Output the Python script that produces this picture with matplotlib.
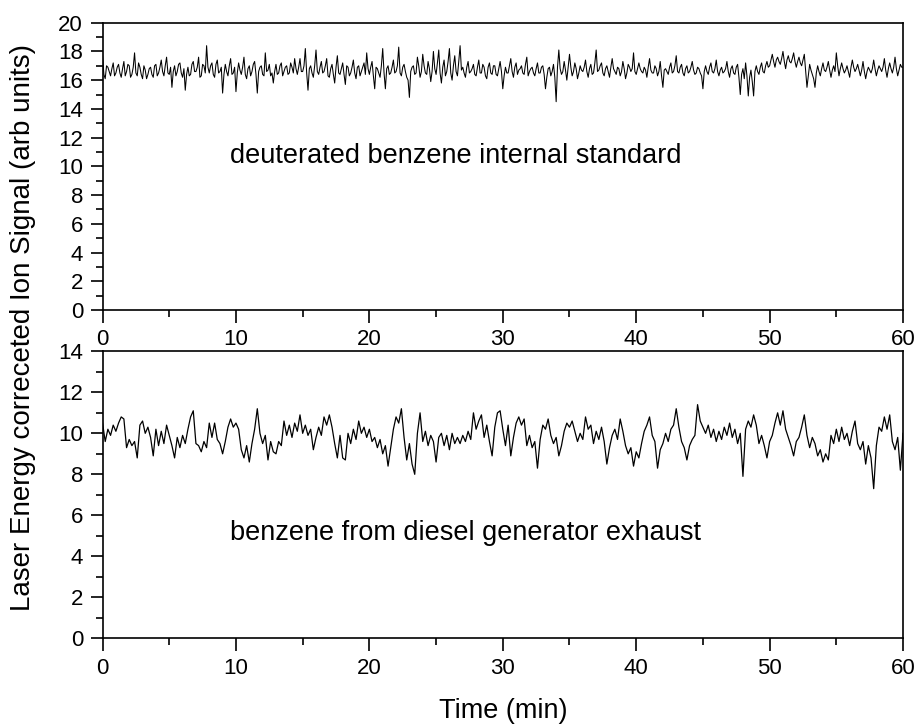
import numpy as np
import matplotlib
matplotlib.use("Agg")
import matplotlib.pyplot as plt
from matplotlib.ticker import MultipleLocator

plt.rcParams["font.family"] = ["Liberation Sans", "DejaVu Sans"]

# time axes (min)
exhaustTime = np.round(np.arange(0, 60.01, 0.2), 1)
standardTime = np.round(np.arange(0, 60.01, 0.1), 1)

# deuterated benzene internal standard (top panel), readings at 0.0, 0.2, 0.4 ... min
standardEven = [
    17.7, 16.1, 16.9, 16.3, 17.2, 16.5, 17.1, 16.2, 17.3, 16.6, 17.0, 16.4, 17.9, 16.3, 16.9, 16.1, 16.7, 16.4, 16.9, 16.2, 17.1, 16.5, 17.4, 16.3, 17.6,
    16.4, 15.5, 17.0, 16.6, 17.2, 16.2, 15.3, 16.9, 16.4, 17.3, 16.6, 17.6, 16.3, 17.0, 18.4, 16.5, 17.2, 16.2, 17.4, 16.6, 15.1, 17.1, 16.3, 17.5, 16.5,
    15.2, 17.2, 16.4, 17.6, 16.1, 17.0, 16.6, 17.3, 15.1, 16.9, 16.4, 17.9, 16.7, 16.3, 15.8, 17.1, 16.5, 17.2, 16.6, 17.0, 16.5, 16.9, 17.5, 16.4, 17.5,
    16.6, 18.2, 15.3, 17.0, 16.2, 18.1, 16.4, 17.3, 16.6, 17.5, 16.2, 17.1, 15.8, 17.7, 16.4, 17.2, 15.7, 16.9, 16.5, 17.4, 16.1, 17.0, 16.6, 17.2, 17.9,
    16.4, 17.3, 15.4, 16.8, 16.2, 18.2, 15.4, 17.0, 16.5, 17.4, 16.6, 18.3, 16.3, 17.1, 16.2, 14.8, 16.9, 16.4, 17.6, 16.2, 17.8, 16.5, 17.3, 15.9, 18.0,
    16.4, 18.1, 15.8, 17.4, 16.6, 18.2, 16.0, 17.7, 16.3, 18.4, 16.9, 16.2, 17.3, 16.6, 17.1, 16.3, 17.4, 16.5, 16.9, 16.1, 17.2, 16.4, 17.0, 16.3, 17.3,
    15.4, 16.9, 16.5, 17.5, 16.2, 17.2, 16.7, 17.0, 16.4, 17.6, 16.6, 16.9, 16.3, 17.2, 16.5, 17.0, 15.4, 16.8, 16.3, 17.1, 14.5, 18.1, 16.4, 17.3, 16.0,
    17.8, 16.3, 17.2, 16.1, 17.0, 16.6, 17.4, 16.2, 17.1, 16.5, 18.1, 16.7, 17.2, 16.3, 17.0, 16.2, 17.5, 16.6, 16.9, 16.3, 17.3, 16.1, 17.1, 16.6, 17.9,
    16.4, 17.2, 16.6, 16.9, 16.2, 17.5, 16.5, 17.0, 16.3, 17.3, 15.5, 16.8, 16.4, 17.2, 16.6, 17.7, 16.5, 17.1, 16.3, 17.0, 16.6, 17.3, 16.4, 16.9, 16.5,
    15.4, 17.0, 16.4, 17.2, 16.5, 17.4, 16.3, 16.9, 16.6, 17.3, 16.2, 17.0, 16.4, 17.1, 15.0, 16.8, 17.2, 14.9, 16.7, 14.9, 17.0, 16.4, 17.2, 16.5, 17.3,
    17.0, 17.8, 16.9, 17.6, 17.1, 18.0, 16.8, 17.7, 17.2, 17.9, 16.9, 17.6, 17.0, 17.8, 15.5, 17.1, 16.4, 15.5, 17.0, 16.3, 17.2, 16.6, 17.3, 16.2, 17.0,
    17.9, 16.3, 17.2, 16.5, 17.0, 16.2, 17.4, 16.6, 17.1, 16.3, 17.3, 16.1, 16.9, 16.5, 17.4, 16.3, 17.0, 16.6, 17.5, 16.2, 17.2, 16.5, 17.6, 16.3, 17.1,
    16.9,
]

# same trace, readings at 0.1, 0.3, 0.5 ... min
standardOdd = [
    16.4, 17.0, 16.6, 16.8, 16.3, 16.9, 16.5, 16.8, 16.3, 17.1, 16.2, 16.9, 16.5, 17.2, 16.4, 17.0, 16.1, 16.8, 16.4, 17.0, 16.3, 16.9, 16.6, 17.0, 16.5,
    16.9, 16.6, 16.3, 17.1, 16.5, 16.8, 16.4, 16.3, 17.1, 16.6, 16.9, 16.2, 17.1, 16.5, 16.9, 17.0, 16.4, 17.1, 16.5, 16.9, 16.4, 16.6, 17.0, 16.4, 16.9,
    16.5, 16.7, 16.9, 16.4, 16.8, 16.3, 17.1, 16.4, 16.6, 17.0, 16.3, 16.6, 17.1, 16.5, 16.6, 16.4, 17.0, 16.3, 16.9, 16.4, 17.2, 16.5, 16.8, 16.9, 16.6,
    17.0, 16.5, 16.8, 16.5, 17.0, 16.6, 16.9, 16.5, 17.0, 16.3, 16.8, 16.4, 16.9, 16.5, 16.8, 16.4, 17.0, 16.3, 16.9, 16.5, 16.9, 16.3, 16.9, 16.4, 16.8,
    16.9, 16.3, 16.9, 16.5, 17.0, 16.5, 16.8, 16.4, 16.9, 16.5, 17.0, 16.5, 16.9, 16.6, 16.0, 16.6, 17.0, 16.5, 17.0, 16.6, 17.0, 16.4, 16.8, 16.6, 16.8,
    17.2, 16.5, 16.9, 16.3, 17.3, 16.5, 17.0, 16.6, 17.3, 16.7, 16.5, 16.9, 16.5, 16.8, 16.4, 16.9, 16.5, 17.1, 16.3, 16.9, 16.5, 17.0, 16.4, 16.8, 16.6,
    16.3, 16.5, 17.0, 16.6, 16.9, 16.4, 16.8, 16.5, 17.1, 16.3, 16.8, 16.5, 16.8, 16.5, 16.9, 16.4, 16.2, 16.9, 16.6, 16.2, 16.9, 16.8, 16.6, 16.7, 16.9,
    16.9, 16.6, 16.8, 16.5, 16.7, 16.9, 16.6, 16.8, 16.4, 17.2, 16.6, 17.0, 16.5, 16.8, 16.6, 16.9, 16.8, 16.4, 16.8, 16.6, 16.8, 16.5, 16.9, 16.8, 16.6,
    16.8, 16.8, 16.5, 16.7, 16.9, 16.7, 16.5, 16.8, 16.6, 16.3, 16.7, 16.6, 16.9, 16.5, 17.0, 16.6, 16.9, 16.5, 16.8, 16.5, 16.9, 16.7, 16.5, 16.8, 16.3,
    16.6, 16.6, 16.9, 16.6, 16.8, 16.6, 16.7, 16.5, 16.8, 16.6, 16.8, 16.5, 16.9, 16.2, 16.4, 16.1, 16.3, 16.2, 15.9, 16.6, 16.6, 16.9, 16.6, 17.0, 16.9,
    17.4, 17.3, 17.4, 17.3, 17.5, 17.3, 17.4, 17.3, 17.5, 17.3, 17.3, 17.2, 17.4, 16.6, 16.3, 16.7, 16.1, 16.5, 16.6, 16.8, 16.7, 16.9, 16.7, 16.7, 16.6,
    17.0, 16.8, 16.8, 16.7, 16.6, 16.9, 16.9, 16.8, 16.7, 16.7, 16.6, 16.6, 16.7, 16.8, 16.8, 16.7, 16.8, 16.9, 16.7, 16.8, 16.8, 16.9, 16.8, 16.7, 16.9,
]

# benzene from diesel generator exhaust (bottom panel), readings every 0.2 min
exhaustSignal = [
    10.5, 9.6, 10.2, 9.9, 10.4, 10.1, 10.5, 10.8, 10.7, 9.3, 9.7, 9.4, 9.6, 8.8, 10.4, 10.6, 10.0, 10.3, 9.8, 8.9, 10.2, 9.4, 10.1, 9.5, 10.4,
    9.9, 9.4, 8.8, 9.8, 9.3, 9.9, 9.5, 10.2, 10.8, 11.1, 9.5, 9.4, 9.1, 9.6, 9.3, 10.5, 9.8, 10.5, 9.7, 9.5, 9.0, 9.6, 10.3, 10.7, 10.3,
    10.5, 10.2, 9.2, 8.8, 9.4, 8.6, 9.5, 10.2, 11.2, 10.0, 9.5, 9.9, 8.7, 9.6, 9.1, 9.0, 9.6, 9.4, 10.6, 9.9, 10.4, 9.8, 10.5, 10.1, 10.9,
    10.0, 10.4, 9.9, 10.2, 9.2, 9.8, 10.3, 9.9, 10.8, 10.4, 10.9, 10.3, 9.5, 8.8, 9.9, 8.8, 8.7, 10.0, 9.5, 10.2, 9.7, 10.6, 10.0, 10.3, 9.8,
    10.2, 9.6, 9.8, 9.3, 9.7, 9.0, 9.4, 8.4, 9.3, 10.2, 10.8, 10.5, 11.2, 9.8, 8.7, 9.5, 8.5, 8.0, 10.0, 11.0, 9.6, 10.1, 9.4, 9.9, 9.6,
    8.6, 9.8, 10.0, 9.4, 9.9, 9.2, 10.0, 9.5, 9.8, 9.5, 9.9, 9.6, 10.1, 9.7, 11.0, 10.2, 10.6, 10.9, 9.8, 10.4, 9.6, 8.9, 10.3, 11.0, 11.1,
    10.2, 9.4, 10.4, 8.9, 9.8, 10.5, 10.8, 10.4, 10.7, 9.4, 9.9, 9.3, 9.6, 8.3, 9.7, 10.4, 10.2, 10.7, 9.9, 9.5, 9.8, 8.9, 9.4, 10.1, 10.5,
    10.3, 10.6, 10.1, 9.6, 10.0, 9.7, 10.8, 10.2, 10.4, 9.5, 10.1, 9.7, 10.3, 9.6, 8.5, 9.3, 9.9, 10.2, 9.7, 10.7, 10.1, 9.4, 9.0, 9.3, 8.4,
    9.1, 8.8, 9.5, 10.1, 10.4, 10.8, 9.9, 9.6, 8.3, 9.2, 9.5, 10.0, 9.6, 10.2, 10.4, 11.2, 10.3, 9.6, 9.3, 8.7, 9.4, 9.7, 9.9, 11.4, 10.6,
    10.3, 10.0, 10.4, 9.8, 10.2, 9.6, 10.1, 9.7, 10.3, 9.9, 10.5, 9.8, 10.2, 9.5, 10.0, 7.9, 10.2, 10.6, 10.3, 10.9, 10.4, 9.5, 9.9, 9.4, 8.8,
    9.6, 9.9, 10.5, 11.0, 10.4, 11.1, 10.2, 9.8, 9.4, 8.9, 9.6, 9.8, 10.3, 10.9, 9.9, 9.3, 9.8, 9.5, 8.9, 9.2, 8.6, 9.0, 8.7, 9.9, 9.5,
    10.2, 9.6, 10.3, 9.7, 10.0, 9.4, 10.1, 10.6, 9.5, 9.2, 9.6, 8.5, 9.4, 8.8, 7.3, 9.4, 10.3, 10.1, 10.8, 10.2, 10.9, 9.6, 9.2, 9.8, 8.2,
    10.0,
]

topLabel = "deuterated benzene internal standard"
bottomLabel = "benzene from diesel generator exhaust"
xTitle = "Time (min)"
yTitle = "Laser Energy correceted Ion Signal (arb units)"

# merge the two interleaved readings of the top trace
standardSignal = np.empty(len(standardTime))
standardSignal[0::2] = standardEven
standardSignal[1::2] = standardOdd

fig = plt.figure(figsize=(9.18, 7.25), dpi=100)
axTop = fig.add_axes([0.1117, 0.5724, 0.872, 0.3963])
axBot = fig.add_axes([0.1117, 0.1196, 0.872, 0.3958])


def styleAxis(ax, ymax):
    ax.set_xlim(0, 60)
    ax.set_ylim(0, ymax)
    ax.xaxis.set_major_locator(MultipleLocator(10))
    ax.xaxis.set_minor_locator(MultipleLocator(5))
    ax.yaxis.set_major_locator(MultipleLocator(2))
    ax.yaxis.set_minor_locator(MultipleLocator(1))
    ax.tick_params(which="both", direction="out", top=False, right=False, width=1.2, labelsize=16)
    ax.tick_params(which="major", length=9, pad=5)
    ax.tick_params(which="minor", length=5)
    for sp in ax.spines.values():
        sp.set_linewidth(1.2)


axTop.plot(standardTime, standardSignal, color="black", lw=0.75)
styleAxis(axTop, 20)
axTop.text(9.55, 10.25, topLabel, fontsize=19.5, va="baseline", ha="left")

axBot.plot(exhaustTime, exhaustSignal, color="black", lw=0.9)
styleAxis(axBot, 14)
axBot.text(9.55, 4.8, bottomLabel, fontsize=19.5, va="baseline", ha="left")

fig.text(0.548, 0.019, xTitle, fontsize=19.5, ha="center", va="center")
fig.text(0.025, 0.548, yTitle, fontsize=20, rotation=90, ha="center", va="center")

fig.savefig("out.png", dpi=100)
